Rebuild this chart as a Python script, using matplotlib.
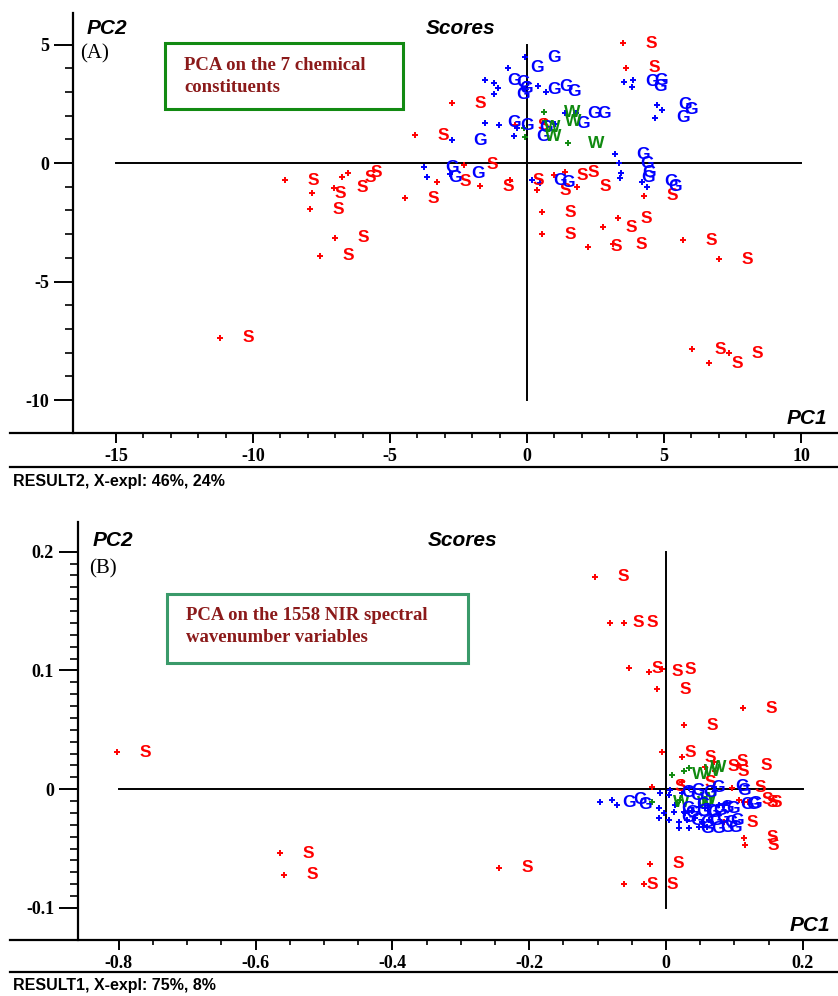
import numpy as np
import matplotlib
matplotlib.use("Agg")
import matplotlib.pyplot as plt
from matplotlib.lines import Line2D
from matplotlib.patches import Rectangle
from matplotlib.ticker import FixedLocator

# ---- panel A : PCA on 7 chemical constituents (PC1 / PC2 scores)
a_s_x = [-11.20, -8.83, -7.85, -7.92, -7.01, -7.55, -7.04, -6.75, -6.53, -4.09, -4.45, -2.74,
         -2.30, -3.28, -1.72, -0.62, 0.36, 0.55, 0.55, 0.99, 1.39, 1.82, 2.77, 3.32, 2.23, 3.14,
         4.27, 5.69, 7.01, 6.02, 6.64, 7.37, 3.50, 3.61, -0.44]
a_s_y = [-7.38, -0.72, -1.27, -1.94, -3.16, -3.92, -1.05, -0.59, -0.42, 1.18, -1.48, 2.53,
         -0.08, -0.80, -0.97, -0.72, -1.14, -2.07, -3.00, -0.51, -0.38, -1.01, -2.70, -2.32, -3.54, -3.42,
         -1.39, -3.25, -4.05, -7.85, -8.44, -8.02, 5.06, 4.01, 1.60]
a_g_x = [-0.07, -0.69, -1.53, -1.20, -1.06, -1.20, -0.07, 0.40, 0.69, 1.39, 1.79, 1.02, -1.53,
         -1.02, -2.74, -0.47, -0.36, -3.76, -3.65, -2.81, 0.18, 0.47, 3.21, 3.36, 3.43, 3.39,
         4.20, 4.38, 3.54, 3.87, 3.83, 4.74, 4.93, 4.67]
a_g_y = [4.47, 4.01, 3.50, 3.38, 3.16, 2.91, 3.12, 3.25, 3.00, 2.11, 2.11, 1.65, 1.69,
         1.60, 0.97, 1.14, 1.48, -0.17, -0.59, -0.46, -0.72, -0.84, 0.38, 0.00, -0.42, -0.63,
         -0.80, -1.01, 3.42, 3.50, 3.21, 2.45, 2.24, 1.90]
a_w_x = [0.62, 0.66, -0.11, -0.07, 1.50]
a_w_y = [2.15, 1.77, 1.48, 1.10, 0.84]

# ---- panel B : PCA on 1558 NIR wavenumbers
b_s_x = [-0.803, -0.564, -0.558, -0.244, -0.104, -0.082, -0.061, -0.054, -0.025, -0.006, -0.013,
         0.026, 0.113, -0.006, 0.023, 0.057, 0.070, 0.072, 0.105, 0.023, -0.020, 0.096, 0.107,
         0.114, 0.120, 0.085, 0.114, 0.115, -0.023, -0.061, -0.032]
b_s_y = [0.031, -0.054, -0.072, -0.066, 0.179, 0.140, 0.140, 0.102, 0.099, 0.101, 0.084,
         0.054, 0.068, 0.031, 0.027, 0.019, 0.023, 0.015, 0.020, 0.006, 0.002, 0.001, -0.009,
         -0.011, -0.011, -0.028, -0.041, -0.047, -0.063, -0.080, -0.080]
b_g_x = [-0.096, -0.079, -0.072, -0.009, 0.006, 0.004, 0.023, 0.034, 0.070, 0.072, 0.077,
         0.085, 0.089, -0.010, -0.003, 0.012, 0.026, 0.038, 0.048, 0.057, -0.010, 0.004, 0.019,
         0.031, 0.042, 0.053, 0.063, 0.019, 0.034, 0.048, 0.060, 0.028, 0.013]
b_g_y = [-0.011, -0.009, -0.013, -0.003, -0.001, -0.005, -0.003, 0.001, 0.002, -0.001, -0.013,
         -0.013, -0.012, -0.016, -0.020, -0.019, -0.019, -0.018, -0.015, -0.016, -0.024, -0.026, -0.028,
         -0.026, -0.024, -0.028, -0.026, -0.033, -0.033, -0.032, -0.032, -0.020, -0.013]
b_w_x = [0.009, 0.034, 0.026, -0.020, 0.016, 0.020]
b_w_y = [0.012, 0.018, 0.015, -0.011, -0.012, -0.009]

W, H = 838, 996
RED, BLUE, GREEN = "#ff0000", "#0000ff", "#108a10"
SERIF = "Liberation Serif"
SANS = "Liberation Sans"

fig = plt.figure(figsize=(W / 100, H / 100), dpi=100)


def px_axes(l, t, r, b):
    return fig.add_axes([l / W, 1 - b / H, (r - l) / W, (b - t) / H])


def ftext(x, y, s, **kw):
    fig.text(x / W, 1 - y / H, s, **kw)


def scatter_group(ax, xs, ys, letter, color):
    ax.plot(xs, ys, "+", color=color, ms=4.5, mew=1.4, ls="none", zorder=3)
    for x, y in zip(xs, ys):
        ax.annotate(letter, (x, y), xytext=(20.5, 0), textcoords="offset points",
                    ha="center", va="center", color=color, fontsize=12.5,
                    fontweight="bold", family=SANS, zorder=4)


def style_axes(ax, spine_x, xmaj, xmin, ymaj, ymin, xfmt, yfmt):
    for s in ("top", "right"):
        ax.spines[s].set_visible(False)
    ax.spines["left"].set_position(("data", spine_x))
    ax.spines["left"].set_linewidth(1.6)
    ax.spines["bottom"].set_linewidth(1.6)
    ax.xaxis.set_major_locator(FixedLocator(xmaj))
    ax.xaxis.set_minor_locator(FixedLocator(xmin))
    ax.yaxis.set_major_locator(FixedLocator(ymaj))
    ax.yaxis.set_minor_locator(FixedLocator(ymin))
    ax.set_xticklabels([xfmt(v) for v in xmaj])
    ax.set_yticklabels([yfmt(v) for v in ymaj])
    ax.tick_params(axis="y", which="major", length=14, width=1.4, pad=3)
    ax.tick_params(axis="y", which="minor", length=6, width=1.2)
    ax.tick_params(axis="x", which="major", length=7, width=1.4, pad=4)
    ax.tick_params(axis="x", which="minor", length=3.5, width=1.2)
    for lab in ax.get_xticklabels() + ax.get_yticklabels():
        lab.set_family(SERIF)
        lab.set_fontweight("bold")
        lab.set_fontsize(13)


# ---------------- panel A
axA = px_axes(10, 13, 838, 433)
axA.set_xlim(-18.87, 11.35)
axA.set_ylim(-11.39, 6.33)
axA.plot([-15, 10], [0, 0], color="k", lw=1.4, zorder=2)
axA.plot([0, 0], [-10, 5], color="k", lw=1.4, zorder=2)
scatter_group(axA, a_s_x, a_s_y, "S", RED)
scatter_group(axA, a_g_x, a_g_y, "G", BLUE)
scatter_group(axA, a_w_x, a_w_y, "W", GREEN)
style_axes(axA, -16.57, [-15, -10, -5, 0, 5, 10],
           [v for v in range(-15, 11) if v % 5], [-10, -5, 0, 5],
           [v for v in range(-10, 6) if v % 5],
           lambda v: str(v), lambda v: str(v))

ftext(87, 29, "PC2", fontsize=15, fontweight="bold", style="italic", family=SANS, va="center")
ftext(80, 54, "(A)", fontsize=15, family=SERIF, va="center")
ftext(461, 29, "Scores", fontsize=15, fontweight="bold", style="italic", family=SANS,
      va="center", ha="center")
ftext(827, 418, "PC1", fontsize=15, fontweight="bold", style="italic", family=SANS,
      va="center", ha="right")
fig.add_artist(Rectangle((165 / W, 1 - 109 / H), 238 / W, 66 / H, transform=fig.transFigure,
                         fill=False, edgecolor="#128a12", lw=2.2))
ftext(184, 65, "PCA on the 7 chemical", fontsize=13.5, fontweight="bold", family=SERIF,
      color="#8b1a1a", va="center")
ftext(184, 87, "constituents", fontsize=13.5, fontweight="bold", family=SERIF,
      color="#8b1a1a", va="center")
fig.add_artist(Line2D([10 / W, 1], [1 - 467 / H] * 2, color="k", lw=1.6))
ftext(13, 481, "RESULT2, X-expl: 46%, 24%", fontsize=11.5, fontweight="bold", family=SANS,
      va="center")

# ---------------- panel B
axB = px_axes(10, 522, 838, 940)
axB.set_xlim(-0.959, 0.2515)
axB.set_ylim(-0.127, 0.225)
axB.plot([-0.8, 0.2], [0, 0], color="k", lw=1.4, zorder=2)
axB.plot([0, 0], [-0.1, 0.2], color="k", lw=1.4, zorder=2)
scatter_group(axB, b_s_x, b_s_y, "S", RED)
scatter_group(axB, b_w_x, b_w_y, "W", GREEN)
scatter_group(axB, b_g_x, b_g_y, "G", BLUE)
bx_minor = [round(v, 2) for v in np.arange(-0.8, 0.201, 0.05)]
bx_minor = [v for v in bx_minor if abs(v * 5 - round(v * 5)) > 1e-6]
by_minor = [round(v, 2) for v in np.arange(-0.1, 0.201, 0.01)]
by_minor = [v for v in by_minor if abs(v * 10 - round(v * 10)) > 1e-6]
style_axes(axB, -0.860, [-0.8, -0.6, -0.4, -0.2, 0, 0.2], bx_minor, [-0.1, 0, 0.1, 0.2],
           by_minor, lambda v: "0" if v == 0 else f"{v:g}", lambda v: "0" if v == 0 else f"{v:g}")

ftext(93, 540, "PC2", fontsize=15, fontweight="bold", style="italic", family=SANS, va="center")
ftext(89, 569, "(B)", fontsize=15, family=SERIF, va="center")
ftext(463, 540, "Scores", fontsize=15, fontweight="bold", style="italic", family=SANS,
      va="center", ha="center")
ftext(830, 925, "PC1", fontsize=15, fontweight="bold", style="italic", family=SANS,
      va="center", ha="right")
fig.add_artist(Rectangle((167 / W, 1 - 663 / H), 301 / W, 69 / H, transform=fig.transFigure,
                         fill=False, edgecolor="#3a9a6a", lw=2.2))
ftext(186, 615, "PCA on the 1558 NIR spectral", fontsize=13.5, fontweight="bold",
      family=SERIF, color="#8b1a1a", va="center")
ftext(186, 637, "wavenumber variables", fontsize=13.5, fontweight="bold", family=SERIF,
      color="#8b1a1a", va="center")
fig.add_artist(Line2D([10 / W, 1], [1 - 972 / H] * 2, color="k", lw=1.6))
ftext(13, 985, "RESULT1, X-expl: 75%, 8%", fontsize=11.5, fontweight="bold", family=SANS,
      va="center")

fig.savefig("out.png", dpi=100)
